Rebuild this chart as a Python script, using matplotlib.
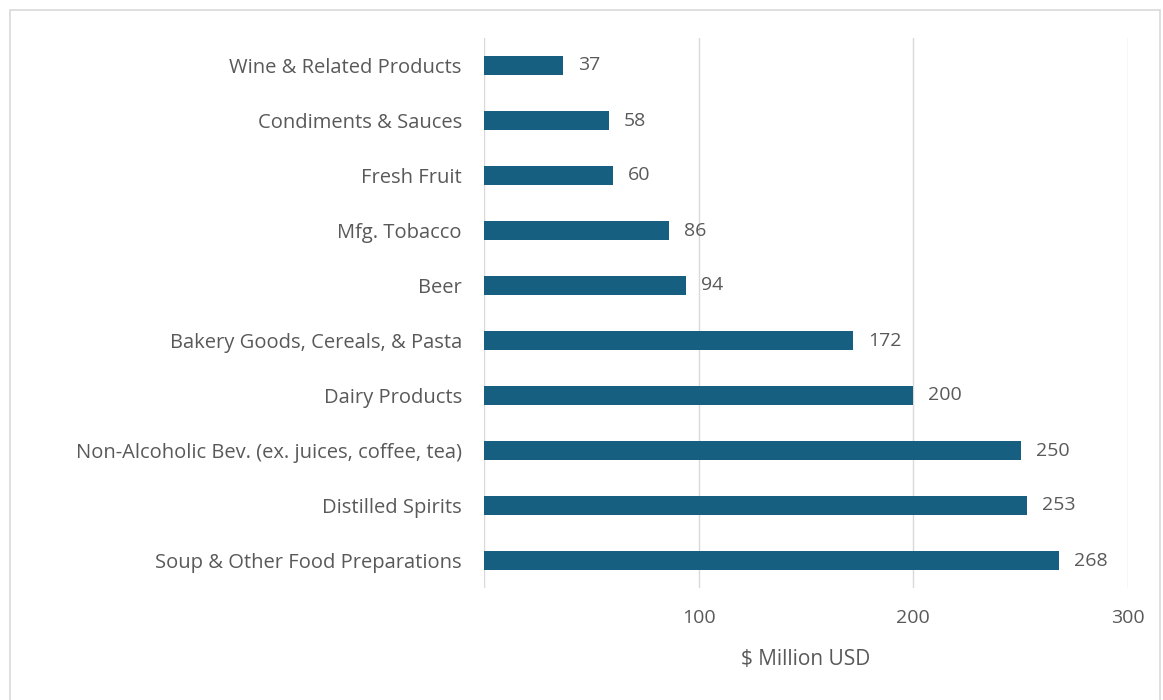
import matplotlib.pyplot as plt
from matplotlib.patches import Rectangle

categories = ["Wine & Related Products", "Condiments & Sauces", "Fresh Fruit",
              "Mfg. Tobacco", "Beer", "Bakery Goods, Cereals, & Pasta",
              "Dairy Products", "Non-Alcoholic Bev. (ex. juices, coffee, tea)",
              "Distilled Spirits", "Soup & Other Food Preparations"]
values = [37, 58, 60, 86, 94, 172, 200, 250, 253, 268]
xticks = [100, 200, 300]

bar_color = "#175F80"
text_color = "#595959"
grid_color = "#D9D9D9"

plt.rcParams['font.family'] = ['Open Sans', 'DejaVu Sans']

fig = plt.figure(figsize=(11.63, 7.0), dpi=100)
ax = fig.add_axes([484 / 1163, 1 - 588 / 700, (1128 - 484) / 1163, 550 / 700])

pos = list(range(len(categories)))
ax.barh(pos, values, height=0.33, color=bar_color, zorder=3)
for p, v in zip(pos, values):
    ax.text(v + 7, p, str(v), va='center', ha='left', fontsize=14, color=text_color)

ax.set_xlim(0, 300)
ax.set_ylim(len(categories) - 0.5, -0.5)
ax.set_yticks(pos)
ax.set_yticklabels(categories, fontsize=14.5, color=text_color)
ax.set_xticks(xticks)
ax.set_xticklabels([str(t) for t in xticks], fontsize=14, color=text_color)
ax.tick_params(axis='both', length=0)
ax.tick_params(axis='y', pad=16)
ax.tick_params(axis='x', pad=15)
ax.grid(axis='x', color=grid_color, linewidth=1, zorder=0)
ax.axvline(0, color=grid_color, linewidth=1, zorder=1)
for s in ax.spines.values():
    s.set_visible(False)
ax.set_xlabel("$ Million USD", fontsize=15, color=text_color, labelpad=16)

fig.patches.append(Rectangle((10 / 1163, -0.01), 1150 / 1163, 1 - 10 / 700 + 0.01,
                             transform=fig.transFigure, fill=False,
                             edgecolor="#D9D9D9", linewidth=1.2))

fig.savefig("out.png", dpi=100)
